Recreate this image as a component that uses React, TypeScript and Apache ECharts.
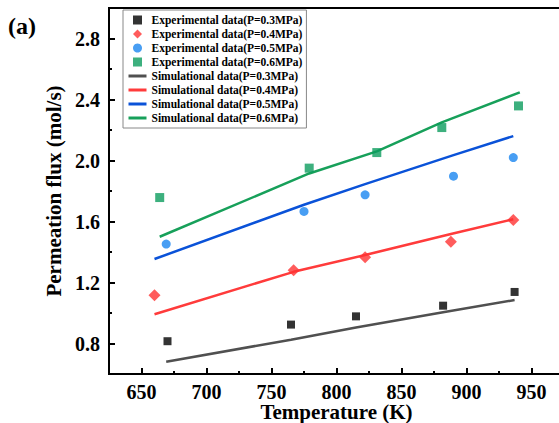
import React, { useEffect, useRef } from "react";
import * as echarts from "echarts";

const FONT = "Liberation Serif";

// Experimental permeation flux (mol/s) vs temperature (K)
const expT03 = [670, 765, 815, 882, 937];
const expF03 = [0.815, 0.924, 0.978, 1.048, 1.138];
const expT04 = [660, 767, 822, 888, 936];
const expF04 = [1.116, 1.28, 1.365, 1.468, 1.61];
const expT05 = [669, 775, 822, 890, 936];
const expF05 = [1.452, 1.666, 1.775, 1.897, 2.019];
const expT06 = [664, 779, 831, 881, 940];
const expF06 = [1.757, 1.95, 2.052, 2.216, 2.358];

// Simulated permeation flux
const simT03 = [669, 765, 815, 882, 937];
const simF03 = [0.68, 0.825, 0.905, 1.005, 1.085];
const simT04 = [660, 767, 822, 888, 936];
const simF04 = [0.992, 1.27, 1.38, 1.518, 1.615];
const simT05 = [660, 775, 822, 890, 936];
const simF05 = [1.354, 1.71, 1.845, 2.035, 2.16];
const simT06 = [664, 779, 831, 881, 941];
const simF06 = [1.5, 1.915, 2.06, 2.25, 2.447];

// Axis ticks
const xMajor = [650, 700, 750, 800, 850, 900, 950];
const xMinor = [675, 725, 775, 825, 875, 925];
const yMajor = [0.8, 1.2, 1.6, 2.0, 2.4, 2.8];
const yMinor = [1.0, 1.4, 1.8, 2.2, 2.6];

const expNames = [
  "Experimental data(P=0.3MPa)",
  "Experimental data(P=0.4MPa)",
  "Experimental data(P=0.5MPa)",
  "Experimental data(P=0.6MPa)",
];
const simNames = [
  "Simulational data(P=0.3MPa)",
  "Simulational data(P=0.4MPa)",
  "Simulational data(P=0.5MPa)",
  "Simulational data(P=0.6MPa)",
];

const pairs = (xs: number[], ys: number[]) => xs.map((x, i) => [x, ys[i]]);

const labelStyle = {
  color: "#000",
  fontFamily: FONT,
  fontWeight: "bold" as const,
  fontSize: 20,
};
const titleStyle = { ...labelStyle, fontSize: 21 };

const SQUARE = "path://M0,0H10V10H0Z";
const DIAMOND = "path://M5,0L10,5L5,10L0,5Z";

export default function App() {
  const ref = useRef<HTMLDivElement>(null);

  useEffect(() => {
    if (!ref.current) return;
    const chart = echarts.init(ref.current, undefined, { renderer: "svg" });

    const expSeries = (name: string, xs: number[], ys: number[], symbol: string, size: number, color: string) => ({
      name,
      type: "scatter",
      data: pairs(xs, ys),
      symbol,
      symbolSize: size,
      itemStyle: { color },
      z: 3,
    });
    const simSeries = (name: string, xs: number[], ys: number[], color: string) => ({
      name,
      type: "line",
      data: pairs(xs, ys),
      symbol: "none",
      lineStyle: { color, width: 2.5 },
      itemStyle: { color },
      z: 2,
    });

    const tickLine = { color: "#000", width: 2 };

    chart.setOption({
      animation: false,
      backgroundColor: "#fff",
      textStyle: { fontFamily: FONT },
      grid: {
        left: 109,
        top: 8,
        width: 455,
        height: 366,
        outerBoundsMode: "none",
        containLabel: false,
        show: true,
        borderColor: "#000",
        borderWidth: 2,
        backgroundColor: "transparent",
      },
      legend: {
        orient: "vertical",
        left: 123,
        top: 10,
        padding: [3, 4, 3, 4],
        itemGap: 0,
        itemWidth: 18,
        itemHeight: 9,
        borderColor: "#888",
        borderWidth: 1,
        backgroundColor: "#fff",
        data: [
          { name: expNames[0], icon: SQUARE },
          { name: expNames[1], icon: DIAMOND },
          { name: expNames[2], icon: "circle" },
          { name: expNames[3], icon: SQUARE },
          ...simNames.map((name) => ({ name, itemStyle: { opacity: 0 }, lineStyle: { width: 3 } })),
        ],
        textStyle: {
          color: "#000",
          fontFamily: FONT,
          fontWeight: "bold",
          fontSize: 11.5,
          lineHeight: 14,
        },
      },
      graphic: [
        {
          type: "text",
          left: 8,
          top: 14,
          style: {
            text: "(a)",
            fill: "#000",
            fontFamily: FONT,
            fontWeight: "bold",
            fontSize: 24,
          },
        },
      ],
      xAxis: [
        {
          type: "value",
          min: 625,
          max: 975,
          position: "bottom",
          name: "Temperature (K)",
          nameLocation: "middle",
          nameGap: 27,
          nameMoveOverlap: false,
          nameTextStyle: titleStyle,
          axisLine: { show: true, lineStyle: { color: "#000", width: 2 } },
          axisTick: { show: true, inside: true, length: 6, customValues: xMajor, lineStyle: tickLine },
          axisLabel: { ...labelStyle, margin: 8, customValues: xMajor },
          splitLine: { show: false },
        },
        {
          type: "value",
          min: 625,
          max: 975,
          position: "bottom",
          axisLine: { show: false },
          axisTick: { show: true, inside: true, length: 3, customValues: xMinor, lineStyle: tickLine },
          axisLabel: { show: false },
          splitLine: { show: false },
        },
      ],
      yAxis: [
        {
          type: "value",
          min: 0.6,
          max: 3.0,
          position: "left",
          name: "Permeation flux (mol/s)",
          nameLocation: "middle",
          nameGap: 44,
          nameRotate: 90,
          nameTextStyle: titleStyle,
          axisLine: { show: true, lineStyle: { color: "#000", width: 2 } },
          axisTick: { show: true, inside: true, length: 6, customValues: yMajor, lineStyle: tickLine },
          axisLabel: { ...labelStyle, margin: 9, customValues: yMajor, formatter: (v: number) => v.toFixed(1) },
          splitLine: { show: false },
        },
        {
          type: "value",
          min: 0.6,
          max: 3.0,
          position: "left",
          axisLine: { show: false },
          axisTick: { show: true, inside: true, length: 3, customValues: yMinor, lineStyle: tickLine },
          axisLabel: { show: false },
          splitLine: { show: false },
        },
      ],
      series: [
        expSeries(expNames[0], expT03, expF03, "rect", 8, "#000000"),
        expSeries(expNames[1], expT04, expF04, "diamond", 12, "#ff3333"),
        expSeries(expNames[2], expT05, expF05, "circle", 9, "#1a86f0"),
        expSeries(expNames[3], expT06, expF06, "rect", 9, "#0d9c5e"),
        simSeries(simNames[0], simT03, simF03, "#505050"),
        simSeries(simNames[1], simT04, simF04, "#ff3b3b"),
        simSeries(simNames[2], simT05, simF05, "#0a52d8"),
        simSeries(simNames[3], simT06, simF06, "#17a05a"),
      ],
    });

    return () => chart.dispose();
  }, []);

  return (
    <div
      ref={ref}
      style={{ position: "fixed", left: 0, top: 0, width: 559, height: 423, background: "#fff" }}
    />
  );
}
